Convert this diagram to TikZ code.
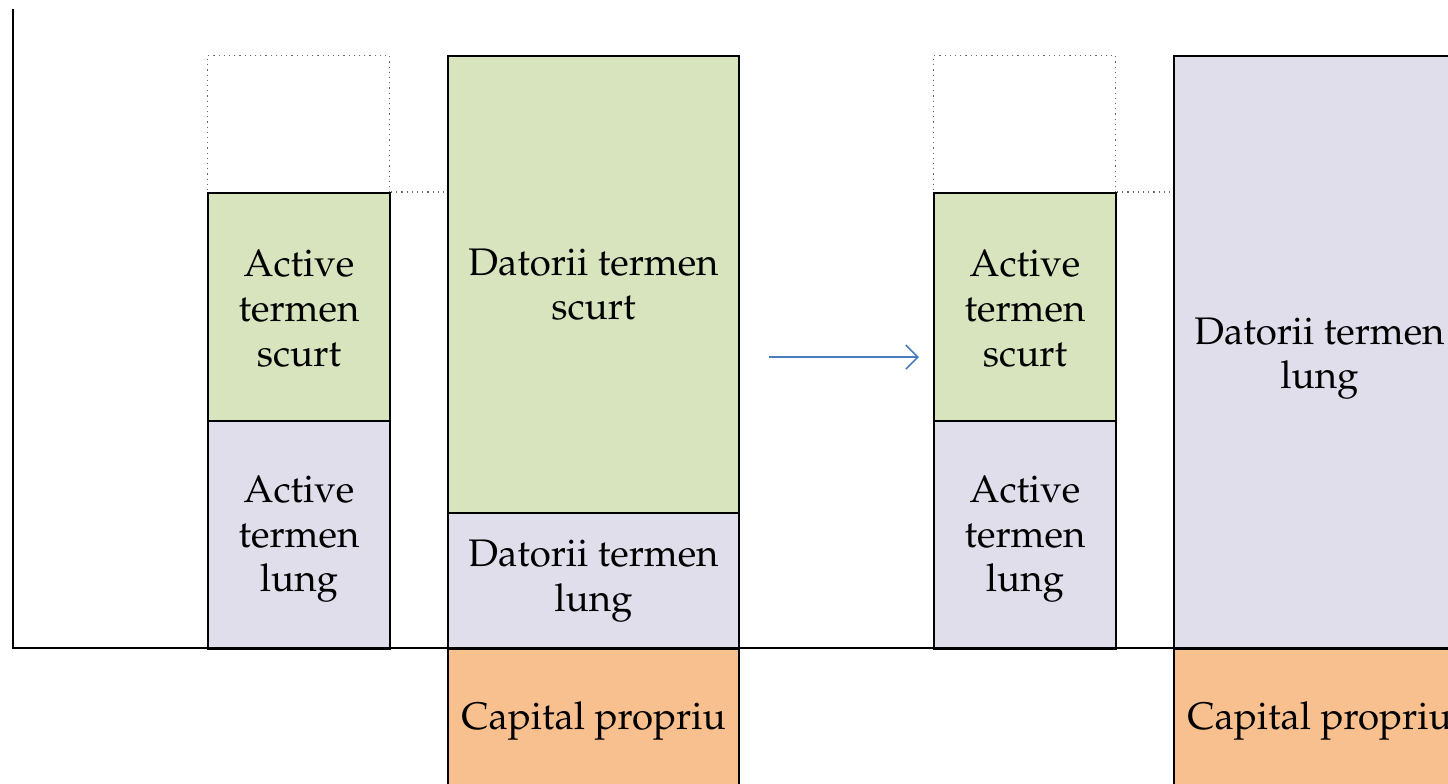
\documentclass[tikz,border=0pt]{standalone}
\usepackage[T1]{fontenc}
\usepackage{mathpazo}
\usetikzlibrary{arrows.meta}
\definecolor{cgreen}{RGB}{215,228,189}
\definecolor{clav}{RGB}{225,222,236}
\definecolor{corange}{RGB}{248,191,143}
\definecolor{cblue}{RGB}{74,126,187}
\newcommand\lowerby[1]{\rule{0pt}{#1}}
\tikzset{
  blk/.style={draw=black, line width=1pt, inner sep=0pt, anchor=north west, align=center,
    font=\fontsize{19.2}{22.3}\selectfont},
  gblk/.style={blk, fill=cgreen},
  lblk/.style={blk, fill=clav},
  oblk/.style={blk, fill=corange},
  ghost/.style={draw=black!60, dotted, line width=0.6pt, inner sep=0pt, anchor=north west},
  guide/.style={draw=black!60, dotted, line width=0.6pt},
  axis/.style={draw=black, line width=1pt},
  flow/.style={draw=cblue, line width=0.8pt, -{Straight Barb[length=6pt,width=12pt,line width=0.8pt]}}
}
\begin{document}
\begin{tikzpicture}[x=0.5pt,y=-0.5pt]
\useasboundingbox (0,0) rectangle (1448,783);
\clip (0,0) rectangle (1448,783);
% ghost outlines
\node[ghost, minimum width=91pt, minimum height=68.5pt] (g1) at (207,55) {};
\node[ghost, minimum width=91pt, minimum height=68.5pt] (g2) at (933,55) {};
% first pair
\node[gblk, minimum width=91pt, minimum height=114pt] (as1) at (207,192) {\lowerby{15pt}Active\\termen\\scurt};
\node[lblk, minimum width=91pt, minimum height=114pt] (al1) at (207,420) {\lowerby{17.5pt}Active\\termen\\lung};
\node[gblk, minimum width=145.5pt, minimum height=228.5pt] (ds1) at (447,55) {Datorii termen\\scurt};
\node[lblk, minimum width=145.5pt, minimum height=68pt] (dl1) at (447,512) {Datorii termen\\lung};
\node[oblk, minimum width=145.5pt, minimum height=72pt] (cp1) at (447,648) {Capital propriu};
% second pair
\node[gblk, minimum width=91pt, minimum height=114pt] (as2) at (933,192) {\lowerby{15pt}Active\\termen\\scurt};
\node[lblk, minimum width=91pt, minimum height=114pt] (al2) at (933,420) {\lowerby{17.5pt}Active\\termen\\lung};
\node[lblk, minimum width=145.5pt, minimum height=296.5pt] (dl2) at (1173,55) {\lowerby{19.5pt}Datorii termen\\lung};
\node[oblk, minimum width=145.5pt, minimum height=72pt] (cp2) at (1173,648) {Capital propriu};
% dotted guides
\draw[guide] (as1.north east) -- (ds1.west |- as1.north east);
\draw[guide] (as2.north east) -- (dl2.west |- as2.north east);
% axes
\coordinate (ytop) at (13,9);
\coordinate (orig) at (13,648);
\coordinate (xend) at (1448,648);
\draw[axis] (ytop) -- (orig) -- (xend);
% arrow
\coordinate (a0) at (769,357);
\coordinate (a1) at (919,357);
\draw[flow] (a0) -- (a1);
\end{tikzpicture}
\end{document}
